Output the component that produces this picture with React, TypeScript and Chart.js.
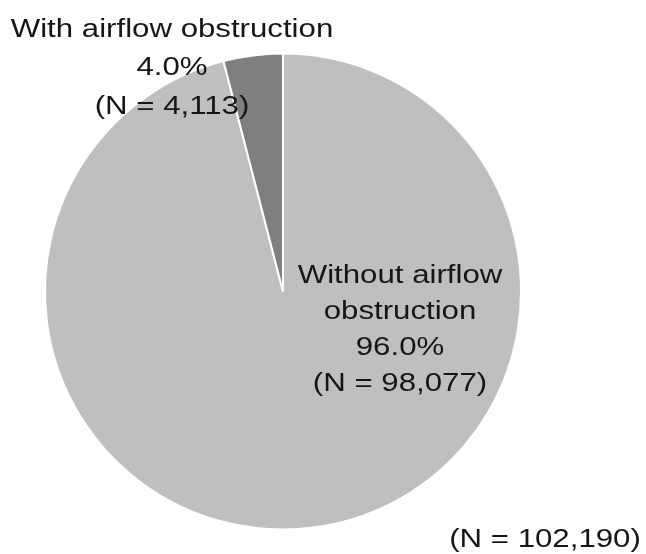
import React, { useEffect, useRef } from "react";
import { Chart, registerables } from "chart.js";

Chart.register(...registerables);

const categories = ["Without airflow obstruction", "With airflow obstruction"];
const counts = [98077, 4113];
const percents = ["96.0%", "4.0%"];
const totalLabel = "(N = 102,190)";
const colors = ["#bfbfbf", "#7f7f7f"];

const fmt = (n: number) => n.toLocaleString("en-US");

const FONT = "26px 'Liberation Sans', Arial, sans-serif";
const SCALE_X = 1.2;

function drawLines(ctx: CanvasRenderingContext2D, lines: string[], cx: number, firstBaseline: number, lh: number) {
  lines.forEach((t, i) => {
    ctx.save();
    ctx.translate(cx, firstBaseline + i * lh);
    ctx.scale(SCALE_X, 1);
    ctx.fillText(t, 0, 0);
    ctx.restore();
  });
}

const labelPlugin = {
  id: "pieLabels",
  afterDraw(chart: any) {
    const ctx = chart.ctx as CanvasRenderingContext2D;
    const arc = chart.getDatasetMeta(0).data[0];
    const cx = arc.x;
    const cy = arc.y;
    ctx.save();
    ctx.font = FONT;
    ctx.fillStyle = "#161616";
    ctx.textAlign = "center";
    ctx.textBaseline = "alphabetic";
    // With airflow obstruction (outside, top-left)
    drawLines(
      ctx,
      [categories[1], percents[1], `(N = ${fmt(counts[1])})`],
      cx - 111,
      cy - 255,
      38.5
    );
    // Without airflow obstruction (inside)
    drawLines(
      ctx,
      ["Without airflow", "obstruction", percents[0], `(N = ${fmt(counts[0])})`],
      cx + 117,
      cy - 9,
      36.3
    );
    // Total
    ctx.save();
    ctx.translate(545, 547);
    ctx.scale(SCALE_X, 1);
    ctx.fillText(totalLabel, 0, 0);
    ctx.restore();
    ctx.restore();
  },
};

export default function App() {
  const ref = useRef<HTMLCanvasElement | null>(null);
  useEffect(() => {
    if (!ref.current) return;
    const chart = new Chart(ref.current, {
      type: "pie",
      data: {
        labels: categories,
        datasets: [
          {
            data: counts,
            backgroundColor: colors,
            borderColor: "#ffffff",
            borderWidth: 2,
          },
        ],
      },
      options: {
        animation: false,
        responsive: false,
        radius: 238,
        layout: { padding: { left: 45, right: 125, top: 54, bottom: 25 } },
        plugins: {
          legend: { display: false },
          tooltip: { enabled: false },
        },
      } as any,
      plugins: [labelPlugin],
    });
    return () => chart.destroy();
  }, []);
  return (
    <div style={{ position: "fixed", left: 0, top: 0, width: 646, height: 554, background: "#fff" }}>
      <canvas ref={ref} width={646} height={554} style={{ width: 646, height: 554 }} />
    </div>
  );
}
